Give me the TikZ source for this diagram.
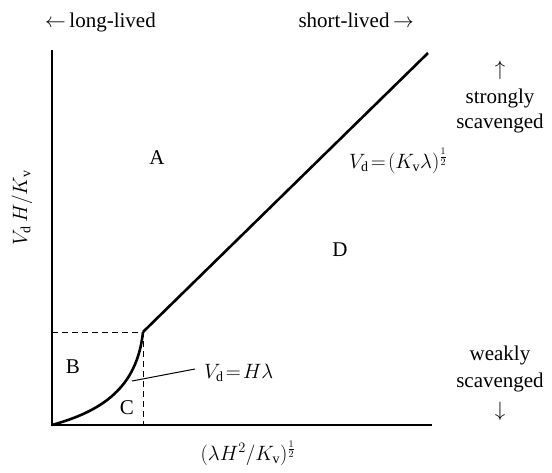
\documentclass[tikz,border=0pt]{standalone}
\usepackage{fontspec}
\setmainfont{Liberation Serif}
\begin{document}
\begin{tikzpicture}[x=1pt,y=-1pt,
  lbl/.style={font=\fontsize{21}{24}\selectfont,inner sep=0pt},
  mlbl/.style={font=\fontsize{20}{24}\selectfont,inner sep=0pt},
  axis/.style={line width=1.6pt},
  thick line/.style={line width=2.6pt},
  dash line/.style={line width=1pt,dash pattern=on 6pt off 4pt}]
\useasboundingbox (0,0) rectangle (552,472);
\coordinate (O) at (52,425);
\coordinate (T) at (52,50);
\coordinate (R) at (432,425);
\coordinate (K) at (143,332);
\coordinate (E) at (428,53);
\coordinate (Ky) at (52,332);
\coordinate (Kx) at (143,425);
\coordinate (L1) at (132,381);
\coordinate (L2) at (195,369);
\draw[axis] (T) -- (O) -- (R);
\draw[thick line] (K) -- (E);
\draw[thick line] (O) .. controls (102,411) and (137,388) .. (K);
\draw[dash line] (Ky) -- (K) -- (Kx);
\draw[line width=1pt] (L1) -- (L2);
\node[lbl] (A) at (157,158) {A};
\node[lbl] (B) at (73,367) {B};
\node[lbl] (C) at (127,408) {C};
\node[lbl] (D) at (340,250) {D};
\node[mlbl,anchor=base west] (eq1) at (204,378) {$V_{\mathrm{d}}\!=\!H\lambda$};
\node[mlbl,anchor=base west] (eq2) at (349,168) {$V_{\mathrm{d}}\!=\!(K_{\mathrm{v}}\lambda)^{\frac12}$};
\node[lbl,anchor=base west] (ll) at (45,27) {$\leftarrow$\,long-lived};
\node[lbl,anchor=base east] (sl) at (414,27) {short-lived\,$\rightarrow$};
\node[lbl] (sa) at (500,70) {$\uparrow$};
\node[lbl,anchor=base] (s1) at (500,103) {strongly};
\node[lbl,anchor=base] (s2) at (500,128) {scavenged};
\node[lbl,anchor=base] (w1) at (500,360) {weakly};
\node[lbl,anchor=base] (w2) at (500,387) {scavenged};
\node[lbl] (wa) at (500,411) {$\downarrow$};
\node[mlbl] (xl) at (248,453) {$(\lambda H^2/K_{\mathrm{v}})^{\frac12}$};
\node[mlbl,rotate=90] (yl) at (22,208) {$V_{\mathrm{d}}\,H/K_{\mathrm{v}}$};
\end{tikzpicture}
\end{document}
